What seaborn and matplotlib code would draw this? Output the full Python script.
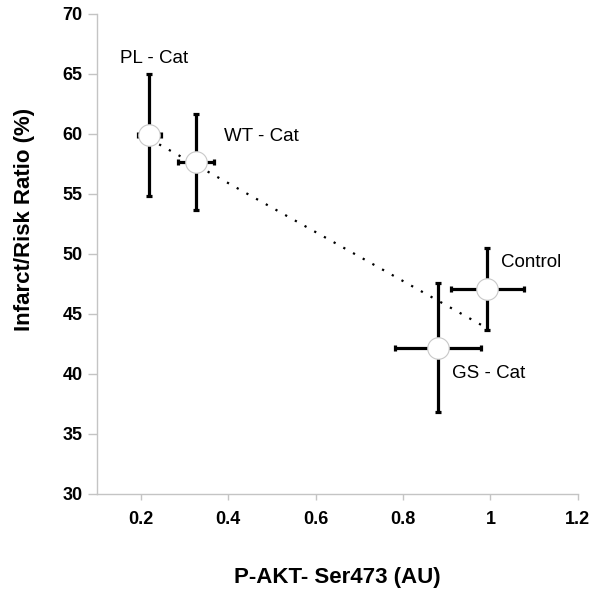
import matplotlib
matplotlib.use("Agg")
import matplotlib.pyplot as plt
import seaborn as sns
import numpy as np
import pandas as pd

# ---- data ----
groups = ["PL - Cat", "WT - Cat", "GS - Cat", "Control"]
pakt = [0.22, 0.327, 0.88, 0.993]
ratio = [59.9, 57.7, 42.2, 47.1]
ratio_err = [5.1, 4.0, 5.4, 3.4]
pakt_err = [0.026, 0.041, 0.099, 0.083]
label_x = [0.152, 0.391, 0.911, 1.025]
label_y = [66.3, 59.75, 40.0, 49.25]
x_ticks = [0.2, 0.4, 0.6, 0.8, 1.0, 1.2]
x_ticklabels = ["0.2", "0.4", "0.6", "0.8", "1", "1.2"]
y_ticks = [30, 35, 40, 45, 50, 55, 60, 65, 70]

df = pd.DataFrame({"group": groups, "pakt": pakt, "ratio": ratio})

sns.set_style("white")
plt.rcParams["font.family"] = ["Liberation Sans", "DejaVu Sans"]
plt.rcParams["text.color"] = "black"
plt.rcParams["axes.labelcolor"] = "black"
plt.rcParams["xtick.labelcolor"] = "black"
plt.rcParams["ytick.labelcolor"] = "black"

fig = plt.figure(figsize=(5.97, 6.0), dpi=100)
ax = fig.add_axes([0.1625, 0.1767, 0.8055, 0.80])

grey = "#c4c4c4"

# regression trend line (dotted)
sns.regplot(data=df, x="pakt", y="ratio", scatter=False, ci=None, truncate=True,
            ax=ax, line_kws=dict(color="black", lw=1.6, linestyle=(0, (1, 4.0)),
                                 zorder=2))

# error bars
ax.errorbar(pakt, ratio, yerr=ratio_err, xerr=pakt_err, fmt="none",
            ecolor="black", elinewidth=2.3, capsize=2, capthick=2.3, zorder=3)

# markers
sns.scatterplot(data=df, x="pakt", y="ratio", ax=ax, s=240, color="white",
                edgecolor="#c8c8c8", linewidth=0.8, zorder=4, legend=False)

for g, lx, ly in zip(groups, label_x, label_y):
    ax.text(lx, ly, g, fontsize=13.5, ha="left", va="center", color="black")

ax.set_xlim(0.1, 1.2)
ax.set_ylim(30, 70)
ax.set_xticks(x_ticks)
ax.set_xticklabels(x_ticklabels)
ax.set_yticks(y_ticks)

for sp in ["top", "right"]:
    ax.spines[sp].set_visible(False)
for sp in ["left", "bottom"]:
    ax.spines[sp].set_color(grey)
    ax.spines[sp].set_linewidth(1.0)

ax.tick_params(axis="y", which="major", direction="out", length=6.5, width=1,
               color=grey, labelcolor="black", pad=4, labelsize=13)
ax.tick_params(axis="x", which="major", direction="out", length=4, width=1,
               color=grey, labelcolor="black", pad=8, labelsize=13)
ax.tick_params(left=True, bottom=True)
for lab in ax.get_xticklabels() + ax.get_yticklabels():
    lab.set_fontweight("bold")

ax.set_xlabel("P-AKT- Ser473 (AU)", fontsize=16, fontweight="bold", color="black")
ax.set_ylabel("Infarct/Risk Ratio (%)", fontsize=16, fontweight="bold", color="black")
ax.xaxis.set_label_coords(0.5, -0.152)
ax.yaxis.set_label_coords(-0.128, 0.571)

fig.savefig("out.png", dpi=100)
